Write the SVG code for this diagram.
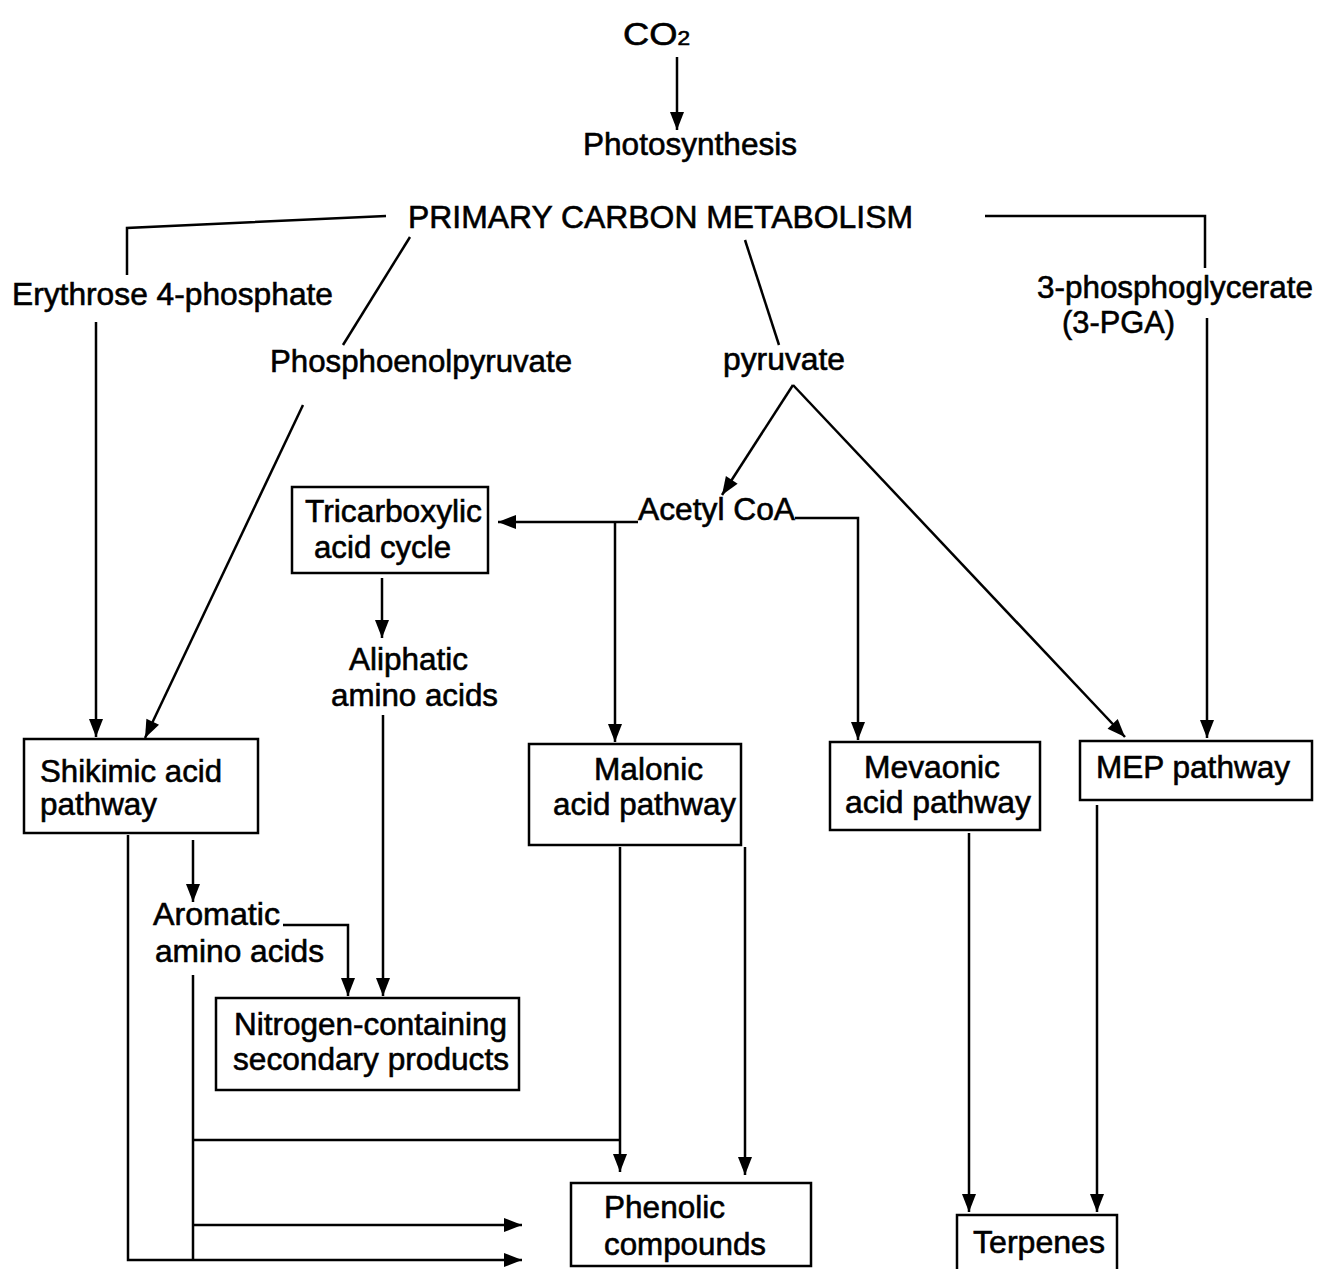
<svg xmlns="http://www.w3.org/2000/svg" width="1318" height="1269" viewBox="0 0 1318 1269">
<style>
text{font-family:"Liberation Sans",Arial,sans-serif;font-size:32px;fill:#000;stroke:#000;stroke-width:0.6}
.box{fill:#fff;stroke:#000;stroke-width:2.5}
.c{fill:none;stroke:#000;stroke-width:2.5}
</style>
<defs>
<marker id="ah" markerUnits="userSpaceOnUse" markerWidth="14" markerHeight="20" viewBox="0 0 14 20" refX="18" refY="7" orient="auto" overflow="visible">
<path d="M0,0 L18,7 L0,14 Z" fill="#000"/>
</marker>
</defs>
<rect width="1318" height="1269" fill="#fff"/>
<g id="connectors">
<path class="c" d="M677,57 V130" marker-end="url(#ah)"/>
<path class="c" d="M386,216 L127,228 V275"/>
<path class="c" d="M985,216 H1205 V268"/>
<path class="c" d="M410,237 L343,345"/>
<path class="c" d="M745,240 L779,345"/>
<path class="c" d="M96,322 V737" marker-end="url(#ah)"/>
<path class="c" d="M303,405 L145,738" marker-end="url(#ah)"/>
<path class="c" d="M793,385 L722,495" marker-end="url(#ah)"/>
<path class="c" d="M793,385 L1125,737" marker-end="url(#ah)"/>
<path class="c" d="M638,522 H498" marker-end="url(#ah)"/>
<path class="c" d="M615,522 V742" marker-end="url(#ah)"/>
<path class="c" d="M795,518 H858 V740" marker-end="url(#ah)"/>
<path class="c" d="M1207,318 V738" marker-end="url(#ah)"/>
<path class="c" d="M382,578 V638" marker-end="url(#ah)"/>
<path class="c" d="M383,715 V996" marker-end="url(#ah)"/>
<path class="c" d="M193,840 V902" marker-end="url(#ah)"/>
<path class="c" d="M283,925 H348 V996" marker-end="url(#ah)"/>
<path class="c" d="M128,835 V1260 H522" marker-end="url(#ah)"/>
<path class="c" d="M193,975 V1260"/>
<path class="c" d="M193,1140 H620"/>
<path class="c" d="M193,1225 H522" marker-end="url(#ah)"/>
<path class="c" d="M620,847 V1172" marker-end="url(#ah)"/>
<path class="c" d="M745,847 V1175" marker-end="url(#ah)"/>
<path class="c" d="M969,833 V1212" marker-end="url(#ah)"/>
<path class="c" d="M1097,805 V1212" marker-end="url(#ah)"/>
</g>
<g id="co2"><text x="623" y="45" textLength="67" lengthAdjust="spacingAndGlyphs">CO<tspan font-size="20">2</tspan></text></g>
<g id="photosynthesis"><text x="583" y="155" textLength="214" lengthAdjust="spacingAndGlyphs">Photosynthesis</text></g>
<g id="pcm"><text x="408" y="228" textLength="505" lengthAdjust="spacingAndGlyphs">PRIMARY CARBON METABOLISM</text></g>
<g id="e4p"><text x="12" y="305" textLength="321" lengthAdjust="spacingAndGlyphs">Erythrose 4-phosphate</text></g>
<g id="pga"><text x="1037" y="298" textLength="276" lengthAdjust="spacingAndGlyphs">3-phosphoglycerate</text><text x="1062" y="333" textLength="113" lengthAdjust="spacingAndGlyphs">(3-PGA)</text></g>
<g id="pep"><text x="270" y="372" textLength="302" lengthAdjust="spacingAndGlyphs">Phosphoenolpyruvate</text></g>
<g id="pyruvate"><text x="723" y="370" textLength="122" lengthAdjust="spacingAndGlyphs">pyruvate</text></g>
<g id="acetylcoa"><text x="638" y="520" textLength="157" lengthAdjust="spacingAndGlyphs">Acetyl CoA</text></g>
<g id="tca"><rect class="box" x="292" y="487" width="196" height="86"/><text x="305" y="522" textLength="177" lengthAdjust="spacingAndGlyphs">Tricarboxylic</text><text x="314" y="558" textLength="137" lengthAdjust="spacingAndGlyphs">acid cycle</text></g>
<g id="aliphatic"><text x="349" y="670" textLength="119" lengthAdjust="spacingAndGlyphs">Aliphatic</text><text x="331" y="706" textLength="167" lengthAdjust="spacingAndGlyphs">amino acids</text></g>
<g id="shikimic"><rect class="box" x="24" y="739" width="234" height="94"/><text x="40" y="782" textLength="182" lengthAdjust="spacingAndGlyphs">Shikimic acid</text><text x="40" y="815" textLength="117" lengthAdjust="spacingAndGlyphs">pathway</text></g>
<g id="malonic"><rect class="box" x="529" y="744" width="212" height="101"/><text x="594" y="780" textLength="109" lengthAdjust="spacingAndGlyphs">Malonic</text><text x="553" y="815" textLength="183" lengthAdjust="spacingAndGlyphs">acid pathway</text></g>
<g id="mevaonic"><rect class="box" x="830" y="742" width="210" height="88"/><text x="864" y="778" textLength="136" lengthAdjust="spacingAndGlyphs">Mevaonic</text><text x="845" y="813" textLength="186" lengthAdjust="spacingAndGlyphs">acid pathway</text></g>
<g id="mep"><rect class="box" x="1080" y="741" width="232" height="59"/><text x="1096" y="778" textLength="194" lengthAdjust="spacingAndGlyphs">MEP pathway</text></g>
<g id="aromatic"><text x="153" y="925" textLength="127" lengthAdjust="spacingAndGlyphs">Aromatic</text><text x="155" y="962" textLength="169" lengthAdjust="spacingAndGlyphs">amino acids</text></g>
<g id="nitrogen"><rect class="box" x="216" y="998" width="303" height="92"/><text x="234" y="1035" textLength="273" lengthAdjust="spacingAndGlyphs">Nitrogen-containing</text><text x="233" y="1070" textLength="276" lengthAdjust="spacingAndGlyphs">secondary products</text></g>
<g id="phenolic"><rect class="box" x="571" y="1183" width="240" height="83"/><text x="604" y="1218" textLength="121" lengthAdjust="spacingAndGlyphs">Phenolic</text><text x="604" y="1255" textLength="162" lengthAdjust="spacingAndGlyphs">compounds</text></g>
<g id="terpenes"><rect class="box" x="957" y="1215" width="160" height="60"/><text x="973" y="1253" textLength="132" lengthAdjust="spacingAndGlyphs">Terpenes</text></g>
</svg>
